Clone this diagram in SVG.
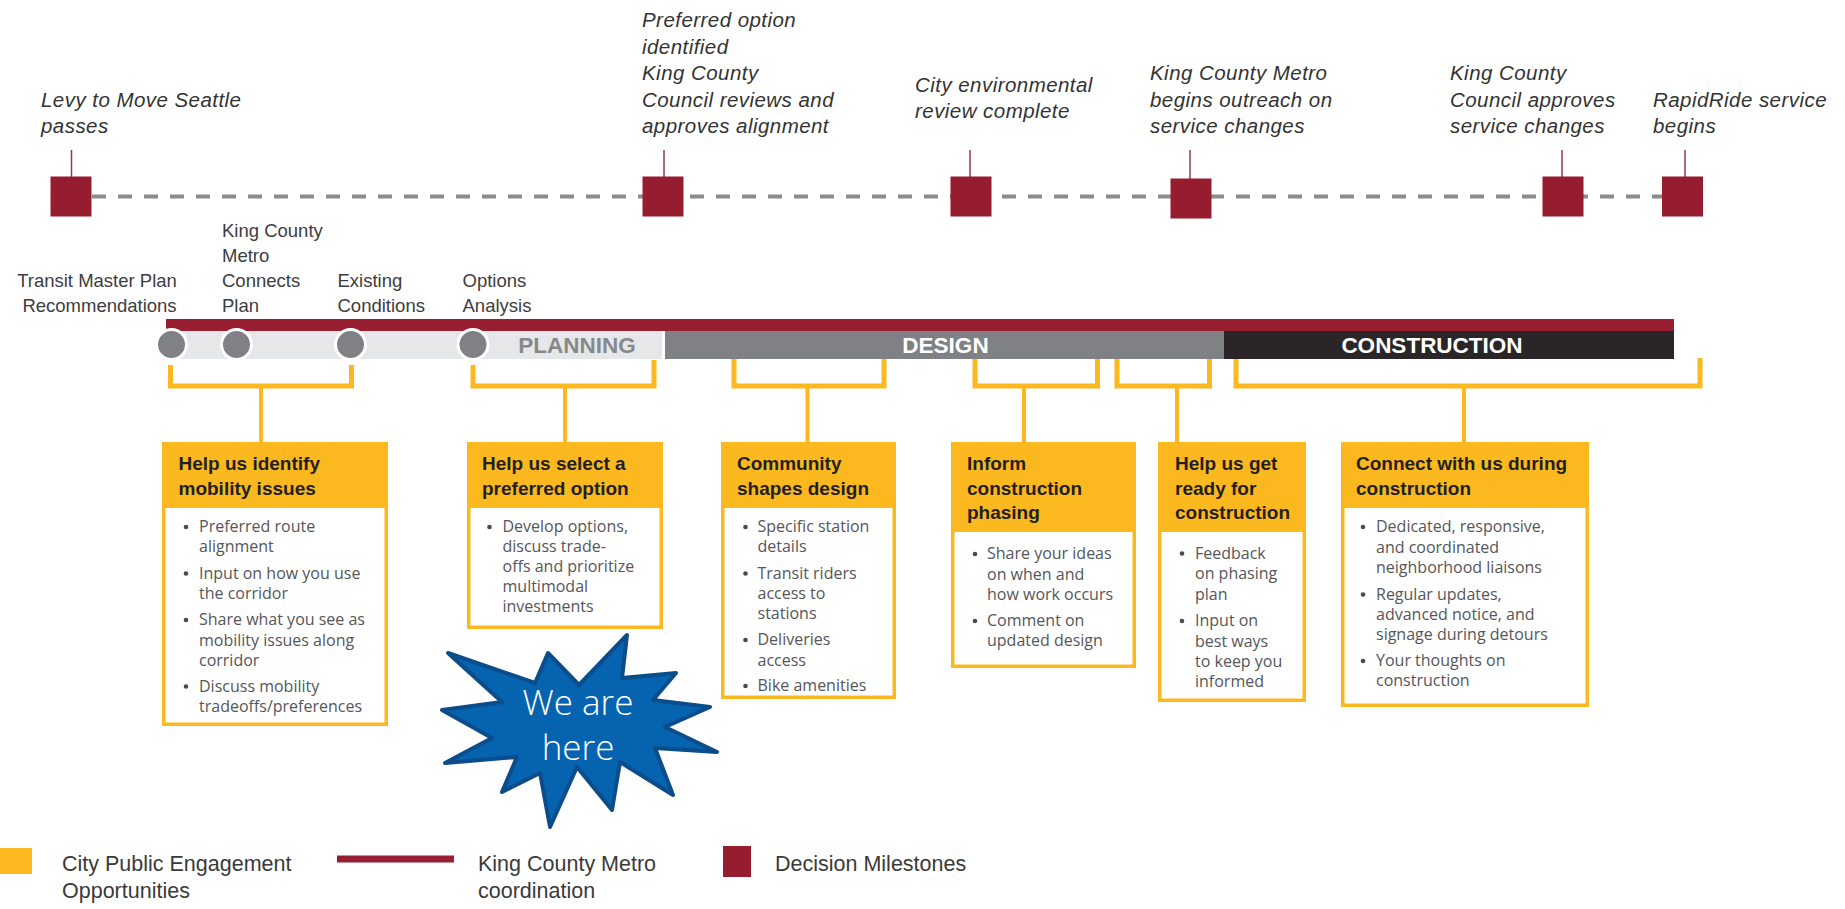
<svg xmlns="http://www.w3.org/2000/svg" width="1845" height="909" viewBox="0 0 1845 909">
<style>
.ms{font-family:"Liberation Sans",Arial,sans-serif;font-style:italic;font-size:20.5px;fill:#333;letter-spacing:0.45px}
.ph{font-family:"Liberation Sans",Arial,sans-serif;font-size:18.5px;fill:#3d3d3d}
.bar{font-family:"Liberation Sans",Arial,sans-serif;font-weight:bold;font-size:22.5px;text-anchor:middle}
.hd{font-family:"Liberation Sans",Arial,sans-serif;font-weight:bold;font-size:19px;fill:#231f20}
.bd{font-family:"Open Sans","Liberation Sans",sans-serif;font-size:16px;fill:#555659}
.lg{font-family:"Liberation Sans",Arial,sans-serif;font-size:21.5px;fill:#3a3a3a}
.sq{fill:#961c30}
.tick{stroke:#8e3b4a;stroke-width:1.5}
.brk{fill:none;stroke:#fbb81f;stroke-width:5}
.stem{stroke:#fbb81f;stroke-width:4}
.hdr{fill:#fbb81f}
.box{fill:#fff;stroke:#fbb81f;stroke-width:3.5}
.dot{fill:#4a4a4a}
.circ{fill:#808184;stroke:#fff;stroke-width:3}
</style>
<rect width="1845" height="909" fill="#fff"/>

<g id="connectors">
  <line x1="92" y1="196.5" x2="1662" y2="196.5" stroke="#8c8c8c" stroke-width="4" stroke-dasharray="14 12"/>
  <line class="tick" x1="71.5" y1="150" x2="71.5" y2="177"/>
  <line class="tick" x1="664" y1="150" x2="664" y2="177"/>
  <line class="tick" x1="970" y1="150" x2="970" y2="177"/>
  <line class="tick" x1="1190" y1="150" x2="1190" y2="179" stroke-width="2.5"/>
  <line class="tick" x1="1562" y1="150" x2="1562" y2="177"/>
  <line class="tick" x1="1685" y1="150" x2="1685" y2="177"/>
  <path class="brk" d="M170.5 365 V386 H351.5 V365"/>
  <line class="stem" x1="261" y1="386" x2="261" y2="442"/>
  <path class="brk" d="M473 365 V386 H654 V360"/>
  <line class="stem" x1="565" y1="386" x2="565" y2="442"/>
  <path class="brk" d="M734 359 V386 H884 V359"/>
  <line class="stem" x1="807.5" y1="386" x2="807.5" y2="442"/>
  <path class="brk" d="M975 359 V386 H1097.5 V359"/>
  <line class="stem" x1="1024" y1="386" x2="1024" y2="442"/>
  <path class="brk" d="M1117 359 V386 H1209.5 V359"/>
  <line class="stem" x1="1177" y1="386" x2="1177" y2="442"/>
  <path class="brk" d="M1236 359 V386 H1700 V358"/>
  <line class="stem" x1="1464" y1="386" x2="1464" y2="442"/>
</g>

<g id="milestone-levy">
  <rect class="sq" x="50.5" y="176.5" width="41" height="40"/>
  <text class="ms" x="41" y="107">Levy to Move Seattle</text>
  <text class="ms" x="41" y="133">passes</text>
</g>
<g id="milestone-preferred">
  <rect class="sq" x="642.5" y="176.5" width="41" height="40"/>
  <text class="ms" x="642" y="27">Preferred option</text>
  <text class="ms" x="642" y="53.5">identified</text>
  <text class="ms" x="642" y="80">King County</text>
  <text class="ms" x="642" y="107">Council reviews and</text>
  <text class="ms" x="642" y="133">approves alignment</text>
</g>
<g id="milestone-env">
  <rect class="sq" x="950.5" y="176.5" width="41" height="40"/>
  <text class="ms" x="915" y="92">City environmental</text>
  <text class="ms" x="915" y="118">review complete</text>
</g>
<g id="milestone-outreach">
  <rect class="sq" x="1170.5" y="178.5" width="41" height="40"/>
  <text class="ms" x="1150" y="80">King County Metro</text>
  <text class="ms" x="1150" y="107">begins outreach on</text>
  <text class="ms" x="1150" y="133">service changes</text>
</g>
<g id="milestone-approves">
  <rect class="sq" x="1542.5" y="176.5" width="41" height="40"/>
  <text class="ms" x="1450" y="80">King County</text>
  <text class="ms" x="1450" y="107">Council approves</text>
  <text class="ms" x="1450" y="133">service changes</text>
</g>
<g id="milestone-rapidride">
  <rect class="sq" x="1662" y="176.5" width="41" height="40"/>
  <text class="ms" x="1653" y="107">RapidRide service</text>
  <text class="ms" x="1653" y="133">begins</text>
</g>

<g id="phase-bar">
  <rect x="166" y="319" width="1508" height="12" fill="#981e32"/>
  <rect x="171" y="331" width="491" height="28" fill="#e6e7e8"/>
  <rect x="665" y="331" width="559" height="28" fill="#808184"/>
  <rect x="1224" y="331" width="450" height="28" fill="#2a2627"/>
  <text class="bar" x="577" y="352.5" fill="#87888b">PLANNING</text>
  <text class="bar" x="945.5" y="352.5" fill="#fff">DESIGN</text>
  <text class="bar" x="1432" y="352.5" fill="#fff">CONSTRUCTION</text>
</g>

<g id="step-tmp">
  <circle class="circ" cx="171.5" cy="344.5" r="15"/>
  <text class="ph" x="97" y="287" text-anchor="middle">Transit Master Plan</text>
  <text class="ph" x="99.5" y="312" text-anchor="middle">Recommendations</text>
</g>
<g id="step-kcm">
  <circle class="circ" cx="236.5" cy="344.5" r="15"/>
  <text class="ph" x="222" y="237">King County</text>
  <text class="ph" x="222" y="262">Metro</text>
  <text class="ph" x="222" y="287">Connects</text>
  <text class="ph" x="222" y="312">Plan</text>
</g>
<g id="step-existing">
  <circle class="circ" cx="350.5" cy="344.5" r="15"/>
  <text class="ph" x="337.5" y="287">Existing</text>
  <text class="ph" x="337.5" y="312">Conditions</text>
</g>
<g id="step-options">
  <circle class="circ" cx="473" cy="344.5" r="15"/>
  <text class="ph" x="462.5" y="287">Options</text>
  <text class="ph" x="462.5" y="312">Analysis</text>
</g>

<g id="box-identify">
  <rect class="box" x="163.75" y="443.75" width="222.5" height="280.5"/>
  <rect class="hdr" x="162" y="442" width="226" height="66"/>
  <text class="hd" x="178.5" y="470">Help us identify</text>
  <text class="hd" x="178.5" y="495">mobility issues</text>
  <circle class="dot" cx="186" cy="527" r="2.3"/>
  <circle class="dot" cx="186" cy="573.5" r="2.3"/>
  <circle class="dot" cx="186" cy="620" r="2.3"/>
  <circle class="dot" cx="186" cy="686.5" r="2.3"/>
  <text class="bd" x="199" y="532">Preferred route</text>
  <text class="bd" x="199" y="552">alignment</text>
  <text class="bd" x="199" y="578.5">Input on how you use</text>
  <text class="bd" x="199" y="599">the corridor</text>
  <text class="bd" x="199" y="625">Share what you see as</text>
  <text class="bd" x="199" y="645.5">mobility issues along</text>
  <text class="bd" x="199" y="665.5">corridor</text>
  <text class="bd" x="199" y="691.5">Discuss mobility</text>
  <text class="bd" x="199" y="711.5">tradeoffs/preferences</text>
</g>

<g id="box-select">
  <rect class="box" x="468.75" y="443.75" width="192.5" height="183.5"/>
  <rect class="hdr" x="467" y="442" width="196" height="66"/>
  <text class="hd" x="482" y="470">Help us select a</text>
  <text class="hd" x="482" y="495">preferred option</text>
  <circle class="dot" cx="489.5" cy="527" r="2.3"/>
  <text class="bd" x="502.5" y="532">Develop options,</text>
  <text class="bd" x="502.5" y="552">discuss trade-</text>
  <text class="bd" x="502.5" y="572">offs and prioritize</text>
  <text class="bd" x="502.5" y="592">multimodal</text>
  <text class="bd" x="502.5" y="612">investments</text>
</g>

<g id="box-community">
  <rect class="box" x="722.75" y="443.75" width="171.5" height="253.5"/>
  <rect class="hdr" x="721" y="442" width="175" height="66"/>
  <text class="hd" x="737" y="470">Community</text>
  <text class="hd" x="737" y="495">shapes design</text>
  <circle class="dot" cx="745.5" cy="527" r="2.3"/>
  <circle class="dot" cx="745.5" cy="573.5" r="2.3"/>
  <circle class="dot" cx="745.5" cy="640" r="2.3"/>
  <circle class="dot" cx="745.5" cy="686" r="2.3"/>
  <text class="bd" x="757.5" y="532">Specific station</text>
  <text class="bd" x="757.5" y="552">details</text>
  <text class="bd" x="757.5" y="578.5">Transit riders</text>
  <text class="bd" x="757.5" y="599">access to</text>
  <text class="bd" x="757.5" y="619">stations</text>
  <text class="bd" x="757.5" y="645">Deliveries</text>
  <text class="bd" x="757.5" y="665.5">access</text>
  <text class="bd" x="757.5" y="691">Bike amenities</text>
</g>

<g id="box-inform">
  <rect class="box" x="952.75" y="443.75" width="181.5" height="222.5"/>
  <rect class="hdr" x="951" y="442" width="185" height="90"/>
  <text class="hd" x="967" y="470">Inform</text>
  <text class="hd" x="967" y="494.5">construction</text>
  <text class="hd" x="967" y="519">phasing</text>
  <circle class="dot" cx="975" cy="554" r="2.3"/>
  <circle class="dot" cx="975" cy="621" r="2.3"/>
  <text class="bd" x="987" y="559">Share your ideas</text>
  <text class="bd" x="987" y="579.5">on when and</text>
  <text class="bd" x="987" y="600">how work occurs</text>
  <text class="bd" x="987" y="626">Comment on</text>
  <text class="bd" x="987" y="646">updated design</text>
</g>

<g id="box-ready">
  <rect class="box" x="1159.75" y="443.75" width="144.5" height="256.5"/>
  <rect class="hdr" x="1158" y="442" width="148" height="90"/>
  <text class="hd" x="1175" y="470">Help us get</text>
  <text class="hd" x="1175" y="494.5">ready for</text>
  <text class="hd" x="1175" y="519">construction</text>
  <circle class="dot" cx="1182" cy="553.5" r="2.3"/>
  <circle class="dot" cx="1182" cy="621" r="2.3"/>
  <text class="bd" x="1195" y="558.5">Feedback</text>
  <text class="bd" x="1195" y="579">on phasing</text>
  <text class="bd" x="1195" y="599.5">plan</text>
  <text class="bd" x="1195" y="626">Input on</text>
  <text class="bd" x="1195" y="646.5">best ways</text>
  <text class="bd" x="1195" y="667">to keep you</text>
  <text class="bd" x="1195" y="687">informed</text>
</g>

<g id="box-connect">
  <rect class="box" x="1342.75" y="443.75" width="244.5" height="261.5"/>
  <rect class="hdr" x="1341" y="442" width="248" height="66"/>
  <text class="hd" x="1356" y="470">Connect with us during</text>
  <text class="hd" x="1356" y="495">construction</text>
  <circle class="dot" cx="1363" cy="527" r="2.3"/>
  <circle class="dot" cx="1363" cy="594.5" r="2.3"/>
  <circle class="dot" cx="1363" cy="661" r="2.3"/>
  <text class="bd" x="1376" y="532">Dedicated, responsive,</text>
  <text class="bd" x="1376" y="552.5">and coordinated</text>
  <text class="bd" x="1376" y="573">neighborhood liaisons</text>
  <text class="bd" x="1376" y="599.5">Regular updates,</text>
  <text class="bd" x="1376" y="619.5">advanced notice, and</text>
  <text class="bd" x="1376" y="640">signage during detours</text>
  <text class="bd" x="1376" y="666">Your thoughts on</text>
  <text class="bd" x="1376" y="686">construction</text>
</g>

<g id="we-are-here">
  <polygon points="448,653 535,683 548,653 579,685 627,635 622,678 676,673 653,700 710,707 665,727 717,752 655,748 673,795 620,762 612,810 577,767 550,827 540,773 502,792 517,757 445,763 492,738 442,710 502,702" fill="#0563af" stroke="#0b4d8a" stroke-width="4" stroke-linejoin="round"/>
  <text x="578" y="715" text-anchor="middle" font-family="'Open Sans','Liberation Sans',sans-serif" font-weight="300" font-size="35" fill="#fff">We are</text>
  <text x="578" y="760" text-anchor="middle" font-family="'Open Sans','Liberation Sans',sans-serif" font-weight="300" font-size="35" fill="#fff">here</text>
</g>

<g id="legend">
  <rect x="0" y="848" width="32" height="26" fill="#fbb81f"/>
  <text class="lg" x="62" y="871">City Public Engagement</text>
  <text class="lg" x="62" y="898">Opportunities</text>
  <line x1="337" y1="859" x2="454" y2="859" stroke="#981e32" stroke-width="7"/>
  <text class="lg" x="478" y="871">King County Metro</text>
  <text class="lg" x="478" y="898">coordination</text>
  <rect class="sq" x="723" y="846" width="28" height="31"/>
  <text class="lg" x="775" y="871">Decision Milestones</text>
</g>
</svg>
